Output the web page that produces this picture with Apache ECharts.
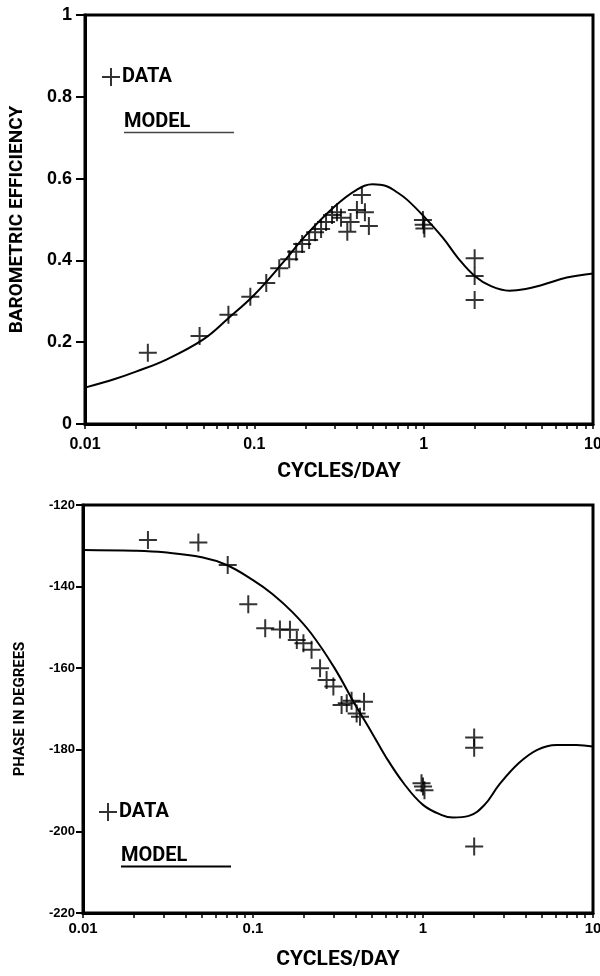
<!DOCTYPE html>
<html>
<head>
<meta charset="utf-8">
<script src="https://cdn.jsdelivr.net/npm/echarts@6/dist/echarts.min.js"></script>
<style>
html,body{margin:0;padding:0;background:#fff;}
#c{width:600px;height:976px;}
</style>
</head>
<body>
<div id="c"></div>
<script>
// ---- Top panel: barometric efficiency ----
const topDataX = [0.0235, 0.0475, 0.0703, 0.0947, 0.1176, 0.1403, 0.1607, 0.1766, 0.1916, 0.2106, 0.2285, 0.2479, 0.2652, 0.2877, 0.3077, 0.325, 0.354, 0.370, 0.4035, 0.4318, 0.4498, 0.4747, 0.99, 1.0, 1.01, 2.0, 2.0, 2.0];
const topDataY = [0.174, 0.215, 0.267, 0.311, 0.345, 0.381, 0.403, 0.421, 0.440, 0.450, 0.469, 0.477, 0.494, 0.511, 0.518, 0.504, 0.470, 0.494, 0.523, 0.560, 0.518, 0.484, 0.499, 0.487, 0.478, 0.405, 0.362, 0.303];
const topModelX = [0.01, 0.015, 0.02, 0.03, 0.05, 0.07, 0.1, 0.15, 0.2, 0.3, 0.4, 0.5, 0.6, 0.7, 0.8, 1.0, 1.3, 1.6, 2.0, 2.5, 3.2, 4.0, 5.0, 7.0, 10];
const topModelY = [0.089, 0.110, 0.128, 0.157, 0.207, 0.258, 0.316, 0.398, 0.460, 0.533, 0.572, 0.586, 0.582, 0.566, 0.548, 0.508, 0.455, 0.405, 0.362, 0.337, 0.326, 0.330, 0.340, 0.358, 0.368];

// ---- Bottom panel: phase ----
const botDataX = [0.0241, 0.0477, 0.071, 0.0938, 0.118, 0.144, 0.165, 0.181, 0.198, 0.221, 0.248, 0.271, 0.297, 0.332, 0.356, 0.38, 0.407, 0.426, 0.45, 0.98, 1.0, 1.02, 2.0, 2.0, 2.0];
const botDataY = [-128.6, -129.2, -134.7, -144.3, -150.2, -150.5, -150.6, -153.1, -153.9, -155.5, -160.0, -162.9, -164.5, -169.0, -168.6, -168.0, -171.1, -171.9, -168.2, -188.2, -189.0, -189.9, -177.0, -179.5, -203.7];
const botModelX = [0.01, 0.02, 0.03, 0.05, 0.07, 0.1, 0.13, 0.17, 0.22, 0.3, 0.4, 0.5, 0.6, 0.77, 1.0, 1.29, 1.5, 1.86, 2.3, 2.8, 3.65, 4.7, 6.1, 8.0, 10];
const botModelY = [-131.0, -131.2, -131.6, -132.8, -134.7, -138.4, -141.8, -146.2, -151.5, -159.8, -169.0, -175.8, -181.5, -188.2, -193.5, -196.0, -196.6, -196.2, -193.5, -188.6, -183.3, -180.0, -178.8, -178.8, -179.2];

// ---- Axis ticks / labels ----
const xTickValues = [0.01,0.02,0.03,0.04,0.05,0.06,0.07,0.08,0.09,0.1,0.2,0.3,0.4,0.5,0.6,0.7,0.8,0.9,1,2,3,4,5,6,7,8,9,10];
const xLabelValues = [0.01, 0.1, 1, 10];

const zip = (a, b) => a.map((v, i) => [v, b[i]]);
const CROSS = 'path://M8,0 H10 V8 H18 V10 H10 V18 H8 V10 H0 V8 H8 Z';
const NAMEFONT = '"Noto Sans Condensed", Roboto, "Liberation Sans", sans-serif';
const SANS = '"Liberation Sans", Arial, sans-serif';

function xAxis(gridIndex, labelSize, labelMargin, nameGap) {
  return {
    type: 'log', logBase: 10, min: 0.01, max: 10, gridIndex: gridIndex,
    name: 'CYCLES/DAY', nameLocation: 'middle', nameGap: nameGap,
    nameTextStyle: {fontFamily: NAMEFONT, fontWeight: 'bold', fontSize: 21, color: '#000'},
    axisLine: {show: true, lineStyle: {color: '#000', width: 3}},
    axisTick: {show: true, inside: false, length: 5, customValues: xTickValues, lineStyle: {color: '#000', width: 1.5}},
    axisLabel: {customValues: xLabelValues, fontFamily: SANS, fontWeight: 'bold', fontSize: labelSize, color: '#000', margin: labelMargin,
      formatter: v => String(+v.toPrecision(3))},
    splitLine: {show: false}, minorTick: {show: false}
  };
}

const option = {
  animation: false,
  backgroundColor: '#fff',
  grid: [
    {left: 85, top: 15, width: 508, height: 409, outerBoundsMode: 'none', containLabel: false,
     show: true, borderColor: '#000', borderWidth: 3, backgroundColor: 'transparent'},
    {left: 83, top: 505, width: 510, height: 408, outerBoundsMode: 'none', containLabel: false,
     show: true, borderColor: '#000', borderWidth: 3, backgroundColor: 'transparent'}
  ],
  xAxis: [
    xAxis(0, 16, 13, 37),
    xAxis(1, 15, 8, 36)
  ],
  yAxis: [
    {type: 'value', gridIndex: 0, min: 0, max: 1, interval: 0.2,
     name: 'BAROMETRIC EFFICIENCY', nameLocation: 'middle', nameGap: 58, nameRotate: 90,
     nameTextStyle: {fontFamily: NAMEFONT, fontWeight: 'bold', fontSize: 19, color: '#000'},
     axisLine: {show: true, lineStyle: {color: '#000', width: 3}},
     axisTick: {show: true, length: 9, lineStyle: {color: '#000', width: 2}},
     axisLabel: {fontFamily: SANS, fontWeight: 'bold', fontSize: 18, color: '#000', margin: 13,
       formatter: v => String(+v.toFixed(1))},
     splitLine: {show: false}},
    {type: 'value', gridIndex: 1, min: -220, max: -120, interval: 20,
     name: 'PHASE IN DEGREES', nameLocation: 'middle', nameGap: 55, nameRotate: 90,
     nameTextStyle: {fontFamily: NAMEFONT, fontWeight: 'bold', fontSize: 15, color: '#000'},
     axisLine: {show: true, lineStyle: {color: '#000', width: 3}},
     axisTick: {show: true, length: 7, lineStyle: {color: '#000', width: 2}},
     axisLabel: {fontFamily: SANS, fontWeight: 'bold', fontSize: 13, color: '#000', margin: 8},
     splitLine: {show: false}}
  ],
  legend: [
    {data: [{name: 'DATA', icon: CROSS}], left: 102, top: 67, padding: 0, itemWidth: 18, itemHeight: 18, itemGap: 4,
     selectedMode: false, textStyle: {fontFamily: NAMEFONT, fontWeight: 'bold', fontSize: 20, color: '#000', padding: [0,0,0,-3]}},
    {data: [{name: 'DATA', icon: CROSS}], left: 99, top: 802, padding: 0, itemWidth: 18, itemHeight: 18, itemGap: 4,
     selectedMode: false, textStyle: {fontFamily: NAMEFONT, fontWeight: 'bold', fontSize: 20, color: '#000', padding: [0,0,0,-3]}}
  ],
  graphic: [
    {type: 'text', left: 124, top: 112, style: {text: 'MODEL', fontFamily: NAMEFONT, fontWeight: 'bold', fontSize: 20, fill: '#000'}},
    {type: 'line', shape: {x1: 124, y1: 132.5, x2: 234, y2: 132.5}, style: {stroke: '#444', lineWidth: 1.5}},
    {type: 'text', left: 121, top: 846, style: {text: 'MODEL', fontFamily: NAMEFONT, fontWeight: 'bold', fontSize: 20, fill: '#000'}},
    {type: 'line', shape: {x1: 121, y1: 866.5, x2: 231, y2: 866.5}, style: {stroke: '#000', lineWidth: 2}}
  ],
  series: [
    {name: 'MODEL', type: 'line', xAxisIndex: 0, yAxisIndex: 0, data: zip(topModelX, topModelY),
     smooth: 0.4, showSymbol: false, lineStyle: {color: '#000', width: 2}, z: 2},
    {name: 'DATA', type: 'scatter', xAxisIndex: 0, yAxisIndex: 0, data: zip(topDataX, topDataY),
     symbol: CROSS, symbolSize: 18, itemStyle: {color: '#000'}, z: 3},
    {name: 'MODEL', type: 'line', xAxisIndex: 1, yAxisIndex: 1, data: zip(botModelX, botModelY),
     smooth: 0.4, showSymbol: false, lineStyle: {color: '#000', width: 2}, z: 2},
    {name: 'DATA', type: 'scatter', xAxisIndex: 1, yAxisIndex: 1, data: zip(botDataX, botDataY),
     symbol: CROSS, symbolSize: 18, itemStyle: {color: '#000'}, z: 3}
  ]
};

const chart = echarts.init(document.getElementById('c'), null, {renderer: 'canvas'});
chart.setOption(option);
</script>
</body>
</html>
